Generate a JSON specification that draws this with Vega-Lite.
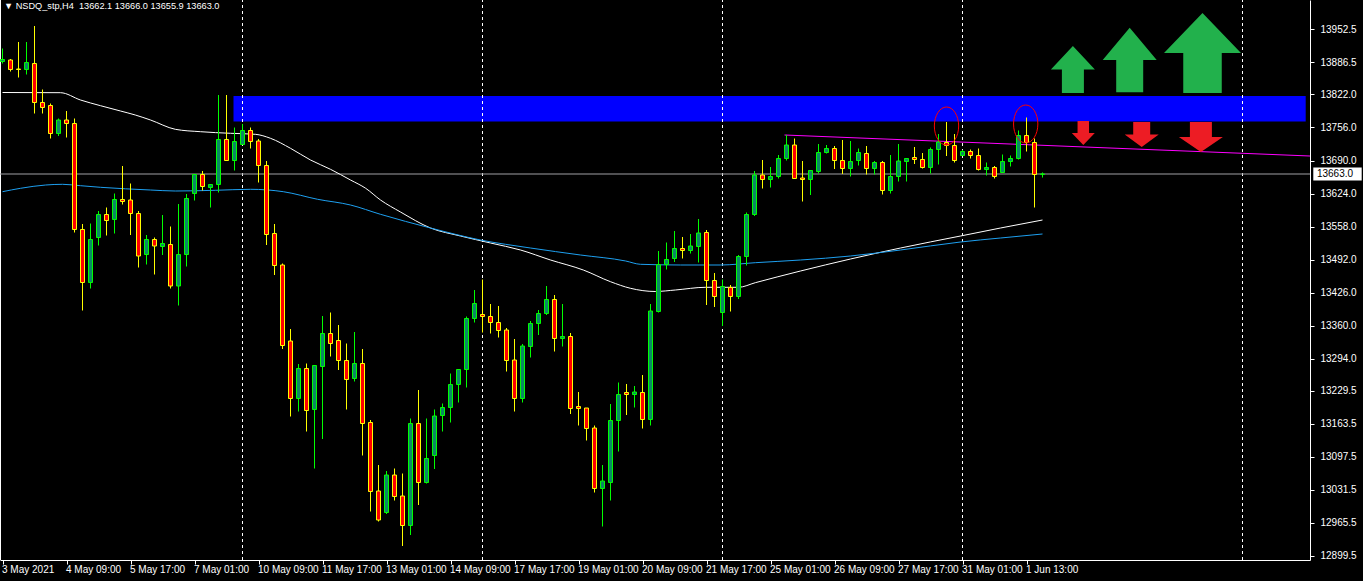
{
 "$schema": "https://vega.github.io/schema/vega-lite/v6.json",
 "width": 1310, "height": 560,
 "autosize": {"type": "none"},
 "padding": {"left": 0, "top": 0, "right": 53, "bottom": 21},
 "background": "#000000",
 "config": {"view": {"stroke": null}, "font": "Liberation Sans", "scale": {"continuousPadding": 0}},
 "title": {"text": "▼  NSDQ_stp,H4\u00a0\u00a013662.1\u00a013666.0\u00a013655.9\u00a013663.0", "anchor": "start", "frame": "group", "orient": "top", "color": "#ffffff", "fontSize": 9.2, "fontWeight": "normal", "font": "Liberation Sans", "offset": -12, "dx": 4},
 "datasets": {
  "candles": [
   {"i":0,"o":13888,"h":13914,"l":13884,"c":13892},{"i":1,"o":13891,"h":13893,"l":13868,"c":13872},{"i":2,"o":13873,"h":13927,"l":13856,"c":13872},{"i":3,"o":13872,"h":13927,"l":13862,"c":13886},{"i":4,"o":13884,"h":13959,"l":13784,"c":13806},{"i":5,"o":13806,"h":13832,"l":13784,"c":13796},{"i":6,"o":13800,"h":13804,"l":13734,"c":13744},{"i":7,"o":13744,"h":13774,"l":13739,"c":13771},{"i":8,"o":13771,"h":13789,"l":13736,"c":13764},{"i":9,"o":13764,"h":13774,"l":13546,"c":13552},
   {"i":10,"o":13552,"h":13563,"l":13390,"c":13446},{"i":11,"o":13446,"h":13564,"l":13434,"c":13532},{"i":12,"o":13536,"h":13589,"l":13520,"c":13582},{"i":13,"o":13582,"h":13596,"l":13540,"c":13570},{"i":14,"o":13572,"h":13624,"l":13544,"c":13612},{"i":15,"o":13612,"h":13679,"l":13602,"c":13608},{"i":16,"o":13611,"h":13644,"l":13541,"c":13584},{"i":17,"o":13584,"h":13589,"l":13476,"c":13499},{"i":18,"o":13502,"h":13541,"l":13482,"c":13532},{"i":19,"o":13532,"h":13536,"l":13462,"c":13519},
   {"i":20,"o":13518,"h":13581,"l":13501,"c":13524},{"i":21,"o":13522,"h":13558,"l":13434,"c":13439},{"i":22,"o":13439,"h":13603,"l":13400,"c":13502},{"i":23,"o":13502,"h":13623,"l":13478,"c":13614},{"i":24,"o":13624,"h":13662,"l":13610,"c":13662},{"i":25,"o":13662,"h":13669,"l":13630,"c":13638},{"i":26,"o":13636,"h":13642,"l":13596,"c":13642},{"i":27,"o":13642,"h":13821,"l":13626,"c":13732},{"i":28,"o":13732,"h":13821,"l":13689,"c":13690},{"i":29,"o":13690,"h":13756,"l":13670,"c":13728},
   {"i":30,"o":13722,"h":13763,"l":13722,"c":13750},{"i":31,"o":13750,"h":13756,"l":13714,"c":13728},{"i":32,"o":13729,"h":13733,"l":13646,"c":13680},{"i":33,"o":13680,"h":13689,"l":13521,"c":13542},{"i":34,"o":13544,"h":13563,"l":13461,"c":13480},{"i":35,"o":13481,"h":13484,"l":13313,"c":13320},{"i":36,"o":13329,"h":13353,"l":13178,"c":13214},{"i":37,"o":13214,"h":13283,"l":13188,"c":13274},{"i":38,"o":13274,"h":13284,"l":13148,"c":13190},{"i":39,"o":13192,"h":13280,"l":13074,"c":13280},
   {"i":40,"o":13278,"h":13379,"l":13133,"c":13344},{"i":41,"o":13344,"h":13386,"l":13298,"c":13324},{"i":42,"o":13330,"h":13361,"l":13271,"c":13290},{"i":43,"o":13290,"h":13324,"l":13192,"c":13252},{"i":44,"o":13254,"h":13347,"l":13248,"c":13284},{"i":45,"o":13284,"h":13313,"l":13100,"c":13164},{"i":46,"o":13166,"h":13171,"l":12988,"c":13028},{"i":47,"o":13029,"h":13081,"l":12968,"c":12971},{"i":48,"o":12986,"h":13069,"l":12983,"c":13061},{"i":49,"o":13061,"h":13074,"l":13010,"c":13018},
   {"i":50,"o":13019,"h":13064,"l":12919,"c":12960},{"i":51,"o":12960,"h":13174,"l":12941,"c":13164},{"i":52,"o":13164,"h":13231,"l":13001,"c":13046},{"i":53,"o":13046,"h":13174,"l":13044,"c":13094},{"i":54,"o":13100,"h":13192,"l":13073,"c":13179},{"i":55,"o":13180,"h":13204,"l":13148,"c":13196},{"i":56,"o":13196,"h":13264,"l":13166,"c":13242},{"i":57,"o":13242,"h":13272,"l":13206,"c":13272},{"i":58,"o":13272,"h":13378,"l":13236,"c":13374},{"i":59,"o":13374,"h":13431,"l":13366,"c":13404},
   {"i":60,"o":13382,"h":13452,"l":13346,"c":13378},{"i":61,"o":13378,"h":13403,"l":13344,"c":13366},{"i":62,"o":13366,"h":13399,"l":13336,"c":13350},{"i":63,"o":13351,"h":13355,"l":13268,"c":13290},{"i":64,"o":13291,"h":13333,"l":13188,"c":13214},{"i":65,"o":13214,"h":13323,"l":13206,"c":13319},{"i":66,"o":13318,"h":13369,"l":13296,"c":13364},{"i":67,"o":13364,"h":13391,"l":13341,"c":13384},{"i":68,"o":13384,"h":13439,"l":13381,"c":13412},{"i":69,"o":13412,"h":13421,"l":13308,"c":13334},
   {"i":70,"o":13334,"h":13403,"l":13318,"c":13338},{"i":71,"o":13338,"h":13345,"l":13183,"c":13194},{"i":72,"o":13198,"h":13227,"l":13160,"c":13194},{"i":73,"o":13195,"h":13195,"l":13130,"c":13154},{"i":74,"o":13155,"h":13160,"l":13026,"c":13034},{"i":75,"o":13034,"h":13081,"l":12958,"c":13049},{"i":76,"o":13046,"h":13203,"l":13010,"c":13170},{"i":77,"o":13170,"h":13246,"l":13108,"c":13222},{"i":78,"o":13226,"h":13243,"l":13181,"c":13222},{"i":79,"o":13222,"h":13239,"l":13196,"c":13227},
   {"i":80,"o":13226,"h":13261,"l":13154,"c":13172},{"i":81,"o":13172,"h":13403,"l":13160,"c":13389},{"i":82,"o":13388,"h":13509,"l":13386,"c":13482},{"i":83,"o":13482,"h":13526,"l":13472,"c":13492},{"i":84,"o":13494,"h":13549,"l":13487,"c":13514},{"i":85,"o":13514,"h":13537,"l":13494,"c":13510},{"i":86,"o":13510,"h":13543,"l":13504,"c":13519},{"i":87,"o":13518,"h":13573,"l":13486,"c":13545},{"i":88,"o":13546,"h":13551,"l":13401,"c":13450},{"i":89,"o":13450,"h":13465,"l":13397,"c":13418},
   {"i":90,"o":13386,"h":13452,"l":13359,"c":13438},{"i":91,"o":13436,"h":13441,"l":13388,"c":13418},{"i":92,"o":13418,"h":13501,"l":13413,"c":13498},{"i":93,"o":13498,"h":13586,"l":13480,"c":13582},{"i":94,"o":13582,"h":13669,"l":13579,"c":13661},{"i":95,"o":13661,"h":13691,"l":13634,"c":13652},{"i":96,"o":13652,"h":13677,"l":13636,"c":13658},{"i":97,"o":13658,"h":13701,"l":13654,"c":13694},{"i":98,"o":13694,"h":13741,"l":13690,"c":13721},{"i":99,"o":13721,"h":13734,"l":13654,"c":13654},
   {"i":100,"o":13655,"h":13689,"l":13608,"c":13652},{"i":101,"o":13652,"h":13670,"l":13621,"c":13670},{"i":102,"o":13668,"h":13723,"l":13664,"c":13706},{"i":103,"o":13706,"h":13721,"l":13704,"c":13714},{"i":104,"o":13714,"h":13719,"l":13673,"c":13690},{"i":105,"o":13690,"h":13731,"l":13663,"c":13674},{"i":106,"o":13674,"h":13729,"l":13658,"c":13688},{"i":107,"o":13690,"h":13714,"l":13680,"c":13706},{"i":108,"o":13704,"h":13719,"l":13662,"c":13674},{"i":109,"o":13674,"h":13689,"l":13662,"c":13686},
   {"i":110,"o":13686,"h":13689,"l":13622,"c":13630},{"i":111,"o":13630,"h":13701,"l":13624,"c":13658},{"i":112,"o":13658,"h":13723,"l":13648,"c":13689},{"i":113,"o":13688,"h":13694,"l":13648,"c":13694},{"i":114,"o":13696,"h":13717,"l":13683,"c":13692},{"i":115,"o":13692,"h":13705,"l":13674,"c":13676},{"i":116,"o":13676,"h":13716,"l":13664,"c":13712},{"i":117,"o":13712,"h":13743,"l":13682,"c":13727},{"i":118,"o":13726,"h":13767,"l":13699,"c":13720},{"i":119,"o":13720,"h":13743,"l":13686,"c":13690},
   {"i":120,"o":13700,"h":13711,"l":13699,"c":13708},{"i":121,"o":13708,"h":13712,"l":13694,"c":13700},{"i":122,"o":13700,"h":13714,"l":13670,"c":13672},{"i":123,"o":13672,"h":13686,"l":13660,"c":13676},{"i":124,"o":13676,"h":13679,"l":13654,"c":13658},{"i":125,"o":13666,"h":13702,"l":13666,"c":13688},{"i":126,"o":13688,"h":13700,"l":13678,"c":13694},{"i":127,"o":13694,"h":13750,"l":13692,"c":13740},{"i":128,"o":13740,"h":13776,"l":13708,"c":13726},{"i":129,"o":13726,"h":13734,"l":13596,"c":13662},
   {"i":130,"o":13662.1,"h":13666.0,"l":13655.9,"c":13663.0}
  ],
  "ma": [
   {"s":"w","i":0,"p":13826},{"s":"w","i":7.25,"p":13825.6},{"s":"w","i":9.75,"p":13811},{"s":"w","i":12.25,"p":13799.6},{"s":"w","i":14.75,"p":13789},{"s":"w","i":16.6,"p":13781},{"s":"w","i":18.5,"p":13771},{"s":"w","i":21.6,"p":13752.4},{"s":"w","i":24.75,"p":13747.6},{"s":"w","i":28.5,"p":13744.4},{"s":"w","i":31.6,"p":13742.4},{"s":"w","i":33.5,"p":13734.4},{"s":"w","i":36,"p":13714.4},{"s":"w","i":38.5,"p":13691},{"s":"w","i":41,"p":13672.4},{"s":"w","i":43.5,"p":13651},{"s":"w","i":45.4,"p":13634.4},{"s":"w","i":47.25,"p":13611},{"s":"w","i":49.75,"p":13587},{"s":"w","i":53.5,"p":13555},{"s":"w","i":57.25,"p":13539},{"s":"w","i":61,"p":13525},{"s":"w","i":64.75,"p":13511},{"s":"w","i":68.5,"p":13491},{"s":"w","i":72.6,"p":13471},{"s":"w","i":76,"p":13447.6},{"s":"w","i":78.5,"p":13434.4},{"s":"w","i":81.6,"p":13428},{"s":"w","i":84.1,"p":13431},{"s":"w","i":87.9,"p":13436.4},{"s":"w","i":92,"p":13436.4},{"s":"w","i":94.1,"p":13445.6},{"s":"w","i":99.75,"p":13469},{"s":"w","i":106,"p":13493},{"s":"w","i":112.25,"p":13515},{"s":"w","i":119.75,"p":13539},{"s":"w","i":124.75,"p":13555},{"s":"w","i":130,"p":13571},
   {"s":"b","i":0,"p":13627.6},{"s":"b","i":2.25,"p":13634.4},{"s":"b","i":5.4,"p":13641},{"s":"b","i":7.5,"p":13642.4},{"s":"b","i":9.75,"p":13639.6},{"s":"b","i":12.25,"p":13636.4},{"s":"b","i":18.5,"p":13631},{"s":"b","i":21.6,"p":13629},{"s":"b","i":26.6,"p":13630.4},{"s":"b","i":31,"p":13632.4},{"s":"b","i":35.1,"p":13627.6},{"s":"b","i":39.4,"p":13612.4},{"s":"b","i":43.5,"p":13601},{"s":"b","i":47.25,"p":13582.4},{"s":"b","i":53.5,"p":13555},{"s":"b","i":59.75,"p":13531},{"s":"b","i":66,"p":13515},{"s":"b","i":72.25,"p":13501},{"s":"b","i":77.9,"p":13489},{"s":"b","i":79.75,"p":13482.4},{"s":"b","i":84.75,"p":13481},{"s":"b","i":89.75,"p":13481},{"s":"b","i":94.1,"p":13485.6},{"s":"b","i":99.75,"p":13491},{"s":"b","i":106,"p":13499},{"s":"b","i":112.25,"p":13511},{"s":"b","i":119.75,"p":13527},{"s":"b","i":124.75,"p":13535},{"s":"b","i":130,"p":13543}
  ]
 },
 "encoding": {
  "x": {"field": "i", "type": "quantitative", "scale": {"domain": [-0.3125, 163.4375], "nice": false, "zero": false, "padding": 0}, "axis": {"orient": "bottom", "values": [0,8,16,24,32,40,48,56,64,72,80,88,96,104,112,120,128], "labelExpr": "['3 May 2021','4 May 09:00','5 May 17:00','7 May 01:00','10 May 09:00','11 May 17:00','13 May 01:00','14 May 09:00','17 May 17:00','19 May 01:00','20 May 09:00','21 May 17:00','25 May 01:00','26 May 09:00','27 May 17:00','31 May 01:00','1 Jun 13:00'][round(datum.value/8)]", "labelAlign": "left", "labelBaseline": "top", "labelColor": "#ffffff", "labelFontSize": 10, "labelFont": "Liberation Sans", "labelPadding": 0, "labelOffset": -1, "tickColor": "#ffffff", "tickSize": 4, "domainColor": "#ffffff", "grid": false, "title": null, "labelOverlap": false, "labelFlush": false}},
  "y": {"field": "p", "type": "quantitative", "scale": {"domain": [12891, 14011], "nice": false, "zero": false, "padding": 0}, "axis": {"orient": "right", "values": [13952.5,13886.5,13822,13756,13690,13624,13558,13492,13426,13360,13294,13229.5,13163.5,13097.5,13031.5,12965.5,12899.5], "format": ".1f", "labelAlign": "left", "labelBaseline": "middle", "labelColor": "#ffffff", "labelFontSize": 10, "labelFont": "Liberation Sans", "labelPadding": 6, "tickColor": "#ffffff", "tickSize": 4, "domainColor": "#ffffff", "grid": false, "title": null, "labelOverlap": false, "labelFlush": false}}
 },
 "layer": [
  {
   "data": {"values": [{"i": 28.875, "i2": 162.9, "p": 13768, "p2": 13819}]},
   "mark": {"type": "rect", "color": "#0000ff"},
   "encoding": {"x2": {"field": "i2"}, "y2": {"field": "p2"}}
  },
  {
   "data": {"values": [{"i": -0.25, "p": 12891, "p2": 14011}]},
   "mark": {"type": "rule", "color": "#ffffff", "strokeWidth": 1},
   "encoding": {"y2": {"field": "p2"}}
  },
  {
   "data": {"values": [{"i": 30, "p": 12891, "p2": 14011}, {"i": 60, "p": 12891, "p2": 14011}, {"i": 90, "p": 12891, "p2": 14011}, {"i": 120, "p": 12891, "p2": 14011}, {"i": 155, "p": 12891, "p2": 14011}]},
   "mark": {"type": "rule", "color": "#ffffff", "strokeWidth": 1, "strokeDash": [3, 3]},
   "encoding": {"y2": {"field": "p2"}}
  },
  {
   "data": {"values": [{"i": -0.3125, "i2": 163.4375, "p": 13663.0}]},
   "mark": {"type": "rule", "color": "#a0a0a4", "strokeWidth": 1},
   "encoding": {"x2": {"field": "i2"}}
  },
  {
   "data": {"name": "ma"},
   "mark": {"type": "line", "strokeWidth": 1, "interpolate": "monotone"},
   "encoding": {
    "detail": {"field": "s"},
    "color": {"field": "s", "type": "nominal", "scale": {"domain": ["w", "b"], "range": ["#ffffff", "#1ea0f0"]}, "legend": null}
   }
  },
  {
   "data": {"values": [{"i": 97.75, "p": 13741}, {"i": 163.4375, "p": 13699}]},
   "mark": {"type": "line", "color": "#ff00ff", "strokeWidth": 1}
  },
  {
   "data": {"name": "candles"},
   "mark": {"type": "rule", "strokeWidth": 1},
   "encoding": {
    "y": {"field": "l", "type": "quantitative"},
    "y2": {"field": "h"},
    "color": {"condition": {"test": "datum.c > datum.o", "value": "#00ff00"}, "value": "#ffff00"}
   }
  },
  {
   "data": {"name": "candles"},
   "mark": {"type": "bar", "width": 4, "strokeWidth": 1},
   "encoding": {
    "y": {"field": "o", "type": "quantitative"},
    "y2": {"field": "c"},
    "fill": {"condition": {"test": "datum.c > datum.o", "value": "#0a8a64"}, "value": "#ff0000"},
    "stroke": {"condition": {"test": "datum.c > datum.o", "value": "#00ff00"}, "value": "#ffff00"}
   }
  },
  {"data": {"values": [{"i": 133.8, "p": 13872}]}, "mark": {"type": "point", "filled": true, "color": "#22b14c", "opacity": 1, "size": 1936, "shape": "M-0.5,1.07L-0.5,0L-1,0L0,-1.07L1,0L0.5,0L0.5,1.07Z"}},
  {"data": {"values": [{"i": 140.9, "p": 13891}]}, "mark": {"type": "point", "filled": true, "color": "#22b14c", "opacity": 1, "size": 2916, "shape": "M-0.5,1.19L-0.5,0L-1,0L0,-1.19L1,0L0.5,0L0.5,1.19Z"}},
  {"data": {"values": [{"i": 150, "p": 13905}]}, "mark": {"type": "point", "filled": true, "color": "#22b14c", "opacity": 1, "size": 5929, "shape": "M-0.5,1.04L-0.5,0L-1,0L0,-1.04L1,0L0.5,0L0.5,1.04Z"}},
  {"data": {"values": [{"i": 135.1, "p": 13745}]}, "mark": {"type": "point", "filled": true, "color": "#ed1c24", "opacity": 1, "size": 529, "shape": "M-0.5,-1.04L0.5,-1.04L0.5,0L1,0L0,1.04L-1,0L-0.5,0Z"}},
  {"data": {"values": [{"i": 142.4, "p": 13742}]}, "mark": {"type": "point", "filled": true, "color": "#ed1c24", "opacity": 1, "size": 1156, "shape": "M-0.5,-0.74L0.5,-0.74L0.5,0L1,0L0,0.74L-1,0L-0.5,0Z"}},
  {"data": {"values": [{"i": 149.8, "p": 13737}]}, "mark": {"type": "point", "filled": true, "color": "#ed1c24", "opacity": 1, "size": 1936, "shape": "M-0.5,-0.68L0.5,-0.68L0.5,0L1,0L0,0.68L-1,0L-0.5,0Z"}},
  {
   "data": {"values": [{"i": 118, "p": 13759}, {"i": 127.9, "p": 13763}]},
   "mark": {"type": "point", "filled": false, "color": "#ff0000", "strokeWidth": 1, "opacity": 1, "size": 1444, "shape": "M0,-1A0.64,1 0 1,1 0,1A0.64,1 0 1,1 0,-1Z"}
  },
  {
   "data": {"values": [{"i": 163.85, "i2": 169.9, "p": 13650, "p2": 13676}]},
   "mark": {"type": "rect", "color": "#ffffff", "clip": false},
   "encoding": {"x2": {"field": "i2"}, "y2": {"field": "p2"}}
  },
  {
   "data": {"values": [{"i": 164.3, "p": 13663.0, "t": "13663.0"}]},
   "mark": {"type": "text", "color": "#000000", "align": "left", "baseline": "middle", "fontSize": 10, "font": "Liberation Sans"},
   "encoding": {"text": {"field": "t"}}
  }
 ]
}
